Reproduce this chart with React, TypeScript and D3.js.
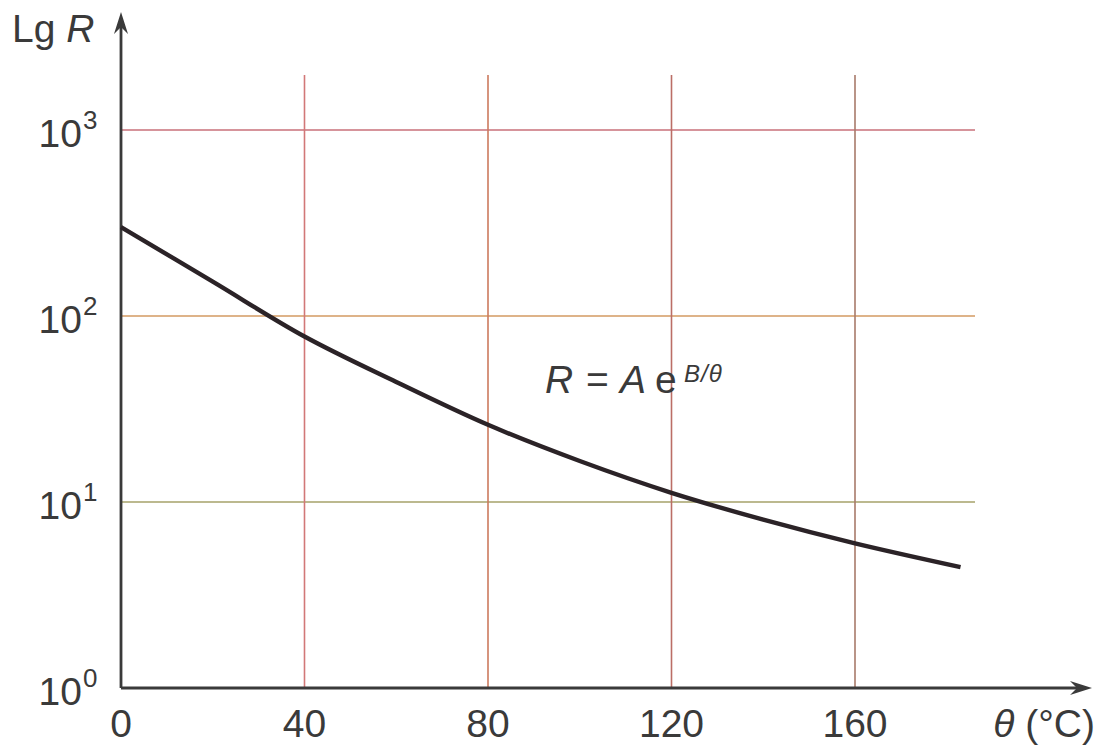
import React from "react";
import * as d3 from "d3";

// Temperature (°C) and resistance readings along the thermistor curve
const thetaValues = [0, 20, 40, 60, 80, 100, 120, 140, 160, 183];
const resistanceValues = [300.6, 153, 77.6, 44.2, 26, 16.6, 11.2, 8.04, 6.0, 4.47];

const xTicks = [0, 40, 80, 120, 160];
const xGridTicks = [40, 80, 120, 160];
const yExponents = [0, 1, 2, 3];
const yGridExponents = [1, 2, 3];

const W = 1103;
const H = 745;
const FONT = "'Liberation Sans', Arial, Helvetica, sans-serif";
const INK = "#3a3a3a";

const hGridColors: Record<number, string> = { 1: "#a6a26a", 2: "#d39a62", 3: "#c8707a" };
const vGridColors: Record<number, string> = { 40: "#d27878", 80: "#cc7a5e", 120: "#bb6e66", 160: "#a87a6a" };

export default function App() {
  const x = d3.scaleLinear().domain([0, 40]).range([121, 304.5]);
  const y = d3.scaleLog().domain([1, 1000]).range([688, 130]);

  const data = thetaValues.map((t, i) => [t, resistanceValues[i]] as [number, number]);
  const line = d3
    .line<[number, number]>()
    .x((d) => x(d[0]))
    .y((d) => y(d[1]))
    .curve(d3.curveCatmullRom.alpha(0.5));

  const x0 = x(0);
  const y0 = y(1);
  const gridRight = 975;
  const gridTop = 75;

  return (
    <svg width={W} height={H} style={{ position: "absolute", left: 0, top: 0, background: "#fff" }}>
      <rect width={W} height={H} fill="#fff" />

      {/* horizontal decade grid lines */}
      {yGridExponents.map((e) => (
        <line key={"h" + e} x1={x0} x2={gridRight} y1={y(10 ** e)} y2={y(10 ** e)}
          stroke={hGridColors[e]} strokeWidth={1.6} />
      ))}
      {/* vertical temperature grid lines */}
      {xGridTicks.map((t) => (
        <line key={"v" + t} x1={x(t)} x2={x(t)} y1={y0} y2={gridTop}
          stroke={vGridColors[t]} strokeWidth={1.6} />
      ))}

      {/* axes with arrowheads */}
      <line x1={x0} x2={x0} y1={y0} y2={18} stroke={INK} strokeWidth={2.8} />
      <path d={`M${x0},12 L${x0 - 7},34 L${x0},27 L${x0 + 7},34 Z`} fill={INK} />
      <line x1={x0} x2={1086} y1={y0} y2={y0} stroke={INK} strokeWidth={2.8} />
      <path d={`M1092,${y0} L1070,${y0 - 7} L1077,${y0} L1070,${y0 + 7} Z`} fill={INK} />

      {/* curve */}
      <path d={line(data) ?? ""} fill="none" stroke="#2b2327" strokeWidth={4.4} strokeLinecap="butt" />

      {/* y tick labels */}
      {yExponents.map((e) => (
        <text key={"yl" + e} x={82} y={y(10 ** e) + 17} fontFamily={FONT} fontSize={39}
          fill={INK} textAnchor="end">
          10
        </text>
      ))}
      {yExponents.map((e) => (
        <text key={"ys" + e} x={83} y={y(10 ** e) - 1} fontFamily={FONT} fontSize={26} fill={INK}>
          {e}
        </text>
      ))}

      {/* x tick labels */}
      {xTicks.map((t) => (
        <text key={"xl" + t} x={x(t)} y={737} fontFamily={FONT} fontSize={39} fill={INK}
          textAnchor="middle">
          {t}
        </text>
      ))}

      {/* axis titles */}
      <text x={12} y={42} fontFamily={FONT} fontSize={39} fill={INK}>
        Lg <tspan fontStyle="italic">R</tspan>
      </text>
      <text x={1095} y={737} fontFamily={FONT} fontSize={39} fill={INK} textAnchor="end">
        <tspan fontStyle="italic">θ</tspan> (°C)
      </text>

      {/* formula */}
      <text y={393} fontFamily={FONT} fontSize={39} fill={INK}>
        <tspan x={545} fontStyle="italic">R</tspan>
        <tspan x={586}>=</tspan>
        <tspan x={620} fontStyle="italic">A</tspan>
        <tspan x={655}>e</tspan>
        <tspan x={684} y={382} fontSize={24} fontStyle="italic" letterSpacing={1}>B/θ</tspan>
      </text>
    </svg>
  );
}
